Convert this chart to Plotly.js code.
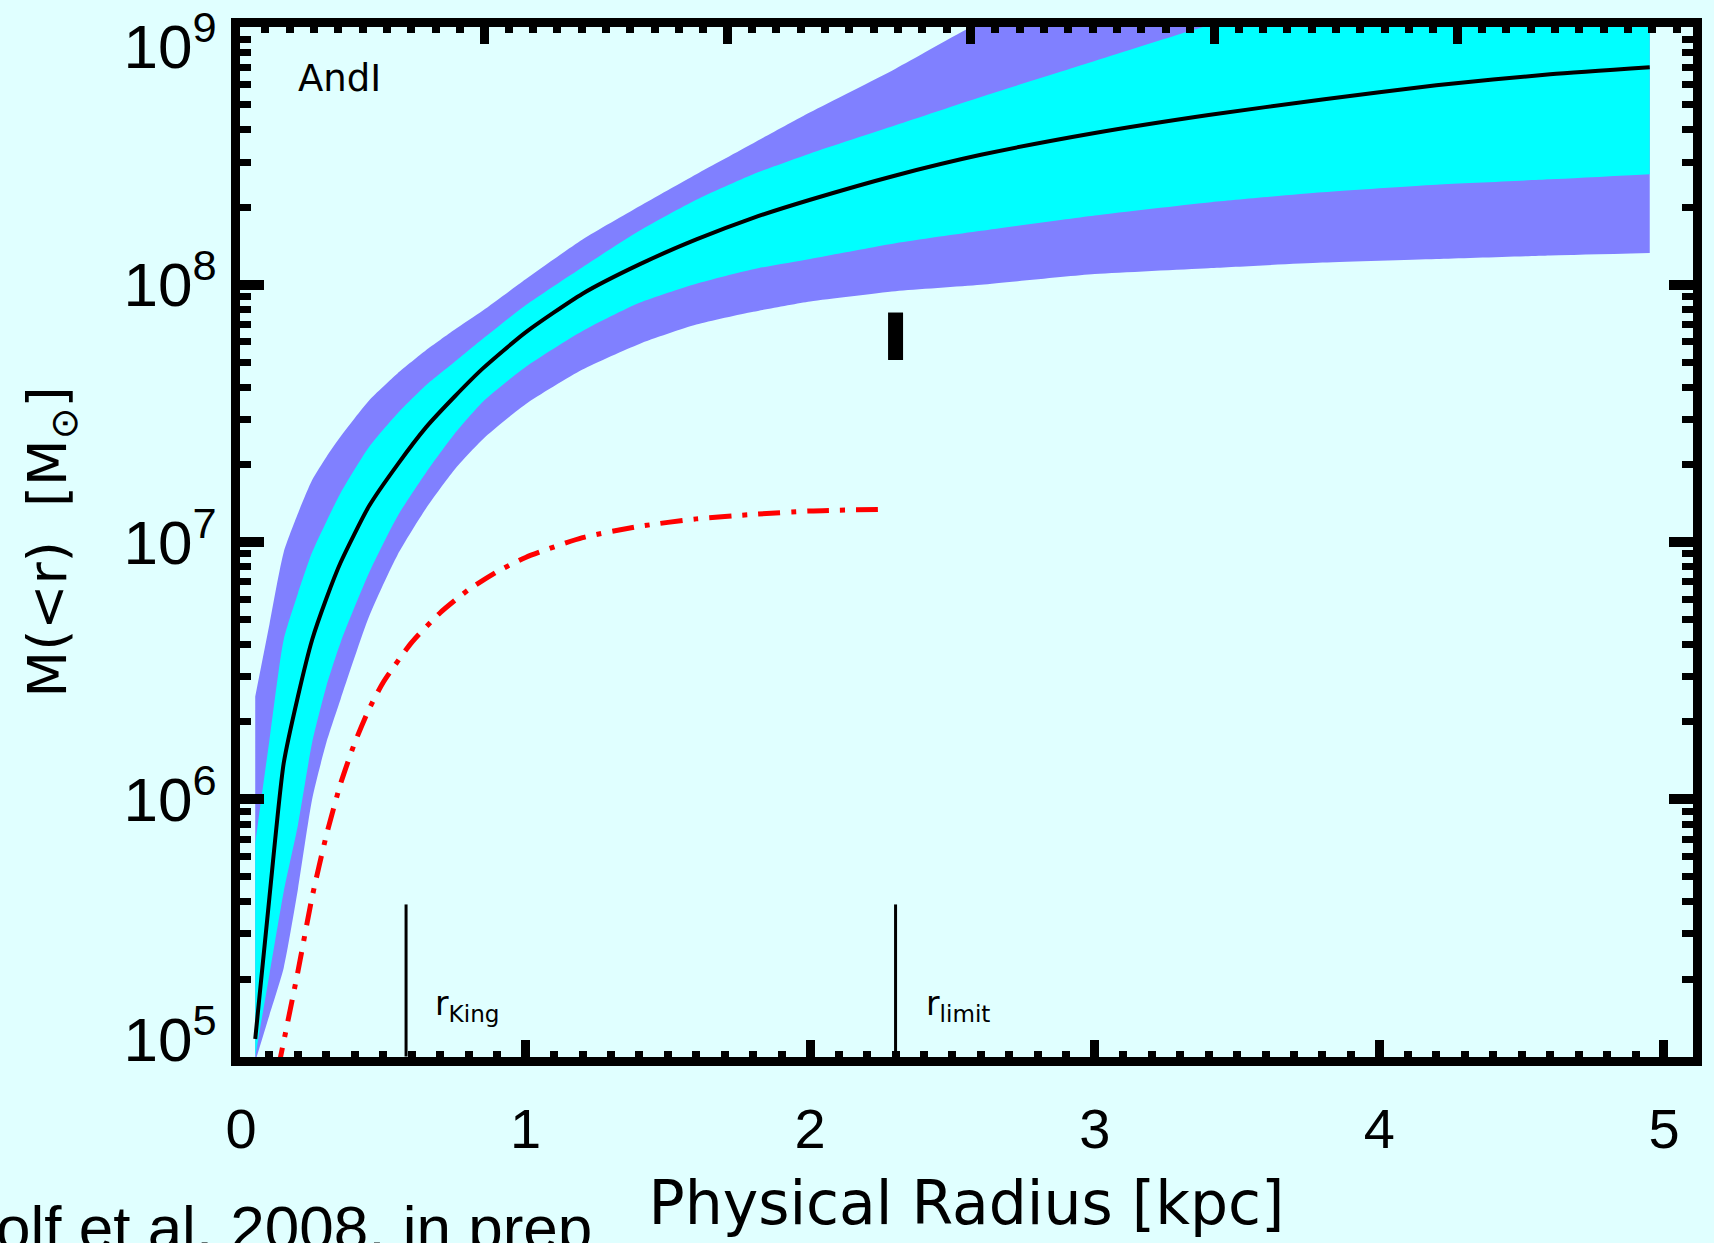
<!DOCTYPE html>
<html>
<head>
<meta charset="utf-8">
<script src="https://cdn.plot.ly/plotly-3.0.1.min.js"></script>
<style>html,body{margin:0;padding:0;background:#E0FFFF;}#chart{width:1714px;height:1243px;}</style>
</head>
<body>
<div id="chart"></div>
<script>
// Physical radius grid [kpc]
const radius = [0.05, 0.1, 0.15, 0.2, 0.25, 0.3, 0.35, 0.45, 0.55, 0.65, 0.75, 0.85, 1.0, 1.2, 1.4, 1.6, 1.8, 2.0, 2.3, 2.6, 3.0, 3.4, 3.8, 4.2, 4.6, 4.95];
// Median enclosed mass M(<r) [Msun]
const massMedian = [1.17e5, 4.17e5, 1.38e6, 2.51e6, 4.17e6, 6.03e6, 8.32e6, 1.38e7, 2.0e7, 2.79e7, 3.67e7, 4.73e7, 6.53e7, 9.23e7, 1.2e8, 1.5e8, 1.82e8, 2.14e8, 2.66e8, 3.2e8, 3.89e8, 4.57e8, 5.25e8, 5.96e8, 6.58e8, 7.01e8];
// Inner (68%) band
const massInnerLow = [1.0e5, 2.09e5, 4.37e5, 7.94e5, 1.66e6, 2.75e6, 4.07e6, 7.59e6, 1.26e7, 1.86e7, 2.63e7, 3.51e7, 4.79e7, 6.61e7, 8.51e7, 1.01e8, 1.15e8, 1.26e8, 1.45e8, 1.62e8, 1.86e8, 2.09e8, 2.29e8, 2.45e8, 2.57e8, 2.69e8];
const massInnerHigh = [6.76e5, 1.7e6, 4.17e6, 6.31e6, 9.12e6, 1.2e7, 1.55e7, 2.34e7, 3.16e7, 4.07e7, 5.01e7, 6.17e7, 8.32e7, 1.17e8, 1.62e8, 2.14e8, 2.69e8, 3.24e8, 4.17e8, 5.37e8, 7.41e8, 1.02e9, 1.35e9, 1.7e9, 2.04e9, 2.34e9];
// Outer (95%) band
const massOuterLow = [9.55e4, 1.45e5, 2.21e5, 4.47e5, 1.0e6, 1.66e6, 2.45e6, 5.13e6, 8.91e6, 1.35e7, 1.91e7, 2.51e7, 3.43e7, 4.68e7, 5.89e7, 7.0e7, 7.85e7, 8.61e7, 9.44e7, 1.0e8, 1.1e8, 1.16e8, 1.22e8, 1.26e8, 1.3e8, 1.33e8];
const massOuterHigh = [2.51e6, 4.79e6, 9.12e6, 1.29e7, 1.74e7, 2.14e7, 2.57e7, 3.55e7, 4.52e7, 5.56e7, 6.68e7, 7.94e7, 1.05e8, 1.5e8, 2.02e8, 2.69e8, 3.55e8, 4.68e8, 6.92e8, 1.05e9, 1.58e9, 2.09e9, 2.51e9, 2.88e9, 3.16e9, 3.39e9];
// Stellar (luminous) mass, red dash-dot
const stellarRadius = [0.13, 0.2, 0.25, 0.3, 0.35, 0.4, 0.45, 0.5, 0.6, 0.7, 0.8, 0.9, 1.0, 1.2, 1.4, 1.6, 1.8, 2.0, 2.26];
const stellarMass = [8.9e4, 2.14e5, 4.17e5, 7.24e5, 1.15e6, 1.66e6, 2.24e6, 2.85e6, 4.07e6, 5.31e6, 6.53e6, 7.67e6, 8.71e6, 1.04e7, 1.15e7, 1.23e7, 1.28e7, 1.32e7, 1.34e7];
// Reference radii and markers
const rKing = 0.58;
const rLimit = 2.30;
const markerLineMass = [1e5, 3.9e5];
const limitMassRange = [5.1e7, 7.8e7];
const xTickVals = [0, 1, 2, 3, 4, 5];
const yTickVals = [1e5, 1e6, 1e7, 1e8, 1e9];
const yTickText = ['', '10<sup>6</sup>', '10<sup>7</sup>', '10<sup>8</sup>', ''];
const yTopTickVals = [1e9];
const yTopTickText = ['10<sup>9</sup>'];
const yBottomTickVals = [1e5];
const yBottomTickText = ['10<sup>5</sup>'];
const galaxyName = 'AndI';
const creditText = 'olf et al. 2008, in prep';

const noLine = {width: 0, color: 'rgba(0,0,0,0)'};
const curve = {shape: 'spline', smoothing: 0.6};
const traces = [
  {x: radius, y: massOuterLow, mode: 'lines', line: Object.assign({}, noLine, curve), hoverinfo: 'skip'},
  {x: radius, y: massOuterHigh, mode: 'lines', line: Object.assign({}, noLine, curve), fill: 'tonexty', fillcolor: '#8080FF', hoverinfo: 'skip'},
  {x: radius, y: massInnerLow, mode: 'lines', line: Object.assign({}, noLine, curve), hoverinfo: 'skip'},
  {x: radius, y: massInnerHigh, mode: 'lines', line: Object.assign({}, noLine, curve), fill: 'tonexty', fillcolor: '#00FFFF', hoverinfo: 'skip'},
  {x: radius, y: massMedian, mode: 'lines', line: Object.assign({color: '#000000', width: 4}, curve)},
  {x: stellarRadius, y: stellarMass, mode: 'lines', line: Object.assign({color: '#FF0000', width: 5, dash: '22px,11px,5px,11px'}, curve)},
  {x: [rKing, rKing], y: markerLineMass, mode: 'lines', line: {color: '#000000', width: 3}},
  {x: [rLimit, rLimit], y: markerLineMass, mode: 'lines', line: {color: '#000000', width: 3}},
  {x: [rLimit, rLimit], y: limitMassRange, mode: 'lines', line: {color: '#000000', width: 15}},
  // invisible anchors so the helper axes (top x ticks, end y labels) are drawn
  {x: [1], y: [1e7], xaxis: 'x2', yaxis: 'y', mode: 'markers', marker: {size: 1, opacity: 0}, hoverinfo: 'skip'},
  {x: [1], y: [1e7], xaxis: 'x', yaxis: 'y2', mode: 'markers', marker: {size: 1, opacity: 0}, hoverinfo: 'skip'},
  {x: [1], y: [1e7], xaxis: 'x', yaxis: 'y3', mode: 'markers', marker: {size: 1, opacity: 0}, hoverinfo: 'skip'}
];

const xTickFont = {family: 'Liberation Sans, Arial, sans-serif', size: 56, color: '#000000'};
const yTickFont = {family: 'Liberation Sans, Arial, sans-serif', size: 62, color: '#000000'};
const xRange = [-0.0035, 5.102];
const yRange = [4.998, 9.002];
const yLabelStandoff = 2;
const helperY = {
  type: 'log', range: yRange, overlaying: 'y', side: 'left', anchor: 'x',
  ticks: '', showline: true, linewidth: 9, linecolor: '#000000',
  showgrid: false, zeroline: false, tickfont: yTickFont,
  ticklabelstandoff: yLabelStandoff, ticklabeloverflow: 'allow'
};
const layout = {
  width: 1714, height: 1243,
  paper_bgcolor: '#E0FFFF', plot_bgcolor: '#E0FFFF',
  showlegend: false,
  margin: {l: 240, r: 21, t: 27, b: 186, pad: 0},
  xaxis: {
    range: xRange, tickvals: xTickVals, ticktext: xTickVals.map(String),
    ticks: 'inside', ticklen: 17, tickwidth: 9, tickcolor: '#000000',
    showline: true, linewidth: 9, linecolor: '#000000', mirror: true,
    showgrid: false, zeroline: false,
    minor: {dtick: 0.1, tick0: 0, ticks: 'inside', ticklen: 6, tickwidth: 8, tickcolor: '#000000', showgrid: false},
    tickfont: xTickFont, ticklabelstandoff: 15,
    title: {text: 'Physical Radius [kpc]', font: {family: 'DejaVu Sans, sans-serif', size: 60, color: '#000000'}, standoff: 26}
  },
  xaxis2: {
    overlaying: 'x', side: 'top', anchor: 'y', range: xRange,
    tick0: 0, dtick: 0.855, ticks: 'inside', ticklen: 17, tickwidth: 9, tickcolor: '#000000',
    showticklabels: false, showline: false, showgrid: false, zeroline: false,
    minor: {dtick: 0.0855, tick0: 0, ticks: 'inside', ticklen: 6, tickwidth: 8, tickcolor: '#000000', showgrid: false}
  },
  yaxis: {
    type: 'log', range: yRange, tickvals: yTickVals, ticktext: yTickText,
    ticks: 'inside', ticklen: 24, tickwidth: 10, tickcolor: '#000000',
    showline: true, linewidth: 9, linecolor: '#000000', mirror: 'ticks',
    showgrid: false, zeroline: false,
    minor: {dtick: 'D1', ticks: 'inside', ticklen: 11, tickwidth: 7, tickcolor: '#000000', showgrid: false},
    tickfont: yTickFont, ticklabelstandoff: yLabelStandoff,
    title: {text: 'M(&lt;r)  [M<sub>⊙</sub>]', font: {family: 'DejaVu Sans, sans-serif', size: 54, color: '#000000'}, standoff: 43}
  },
  yaxis2: Object.assign({}, helperY, {tickvals: yTopTickVals, ticktext: yTopTickText, ticklabelshift: 19}),
  yaxis3: Object.assign({}, helperY, {tickvals: yBottomTickVals, ticktext: yBottomTickText, ticklabelshift: -17}),
  annotations: [
    {xref: 'x', yref: 'y', x: 0.195, y: 8.80, xanchor: 'left', yanchor: 'middle', showarrow: false,
     text: galaxyName, font: {family: 'DejaVu Sans, sans-serif', size: 37, color: '#000000'}},
    {xref: 'x', yref: 'y', x: 0.675, y: 5.20, xanchor: 'left', yanchor: 'middle', showarrow: false,
     text: 'r<sub>King</sub>', font: {family: 'DejaVu Sans, sans-serif', size: 33, color: '#000000'}},
    {xref: 'x', yref: 'y', x: 2.40, y: 5.20, xanchor: 'left', yanchor: 'middle', showarrow: false,
     text: 'r<sub>limit</sub>', font: {family: 'DejaVu Sans, sans-serif', size: 33, color: '#000000'}},
    {xref: 'paper', yref: 'paper', x: -0.1693, y: -0.1655, xanchor: 'left', yanchor: 'middle', showarrow: false,
     text: creditText, font: {family: 'Liberation Sans, Arial, sans-serif', size: 62, color: '#000000'}}
  ]
};

Plotly.newPlot('chart', traces, layout, {displayModeBar: false, staticPlot: true});
</script>
</body>
</html>
